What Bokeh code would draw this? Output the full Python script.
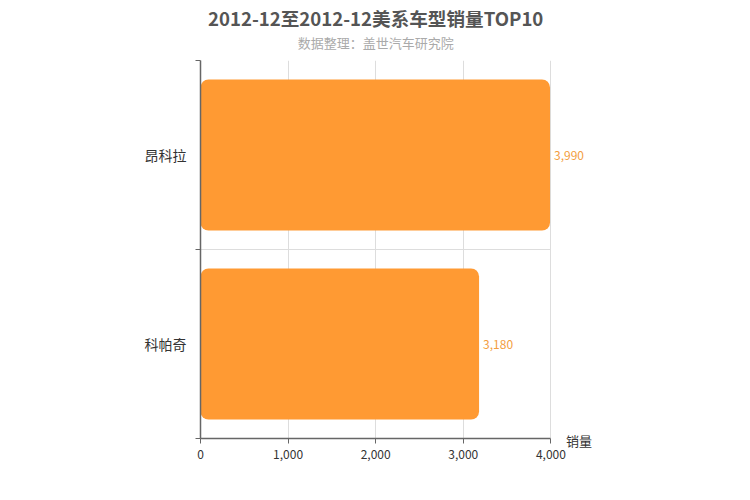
from bokeh.plotting import figure
from bokeh.models import (ColumnDataSource, FixedTicker, Label, LabelSet,
                          Range1d, NumeralTickFormatter)
from bokeh.core.properties import value
from bokeh.embed import file_html
from bokeh.resources import INLINE

models = ["昂科拉", "科帕奇"]
sales = [3990, 3180]
x_ticks = [0, 1000, 2000, 3000, 4000]
title_text = "2012-12至2012-12美系车型销量TOP10"
subtitle_text = "数据整理：盖世汽车研究院"
axis_name = "销量"

FONT = "Noto Sans CJK SC"
n = len(models)
ypos = [n - i - 0.5 for i in range(n)]
labels_txt = [f"{v:,}" for v in sales]
x_max = x_ticks[-1]

W, H = 750, 500
LEFT, RIGHT_FRAME = 200, 550
EXT = 1.25
frame_w = (RIGHT_FRAME - LEFT) * EXT
right_border = W - LEFT - frame_w

src = ColumnDataSource(dict(y=ypos, v=sales, t=labels_txt))

p = figure(width=W, height=H, output_backend="svg", toolbar_location=None,
           x_range=Range1d(0, x_max * EXT), y_range=Range1d(0, n),
           min_border_left=LEFT, min_border_right=int(right_border),
           min_border_top=60, min_border_bottom=62)
p.outline_line_color = None
p.background_fill_color = "white"

p.hbar(y="y", right="v", left=0, height=0.8, source=src,
       fill_color="#FF9A33", line_color=None, border_radius=8)

labels = LabelSet(x="v", y="y", text="t", source=src, x_offset=4,
                  text_baseline="middle", text_align="left",
                  text_color="#F39E40", text_font_size="12px",
                  text_font=value(FONT))
p.add_layout(labels)

# x axis
xa = p.xaxis[0]
xa.bounds = (0, x_max)
xa.ticker = FixedTicker(ticks=x_ticks)
xa.formatter = NumeralTickFormatter(format="0,0")
xa.axis_line_color = "#666666"
xa.axis_line_width = 1.5
xa.major_tick_line_color = "#666666"
xa.major_tick_in = 0
xa.major_tick_out = 5
xa.minor_tick_line_color = None
xa.major_label_text_font = FONT
xa.major_label_text_font_size = "12px"
xa.major_label_text_color = "#333333"
xa.major_label_standoff = 6

# y axis
ya = p.yaxis[0]
ya.ticker = FixedTicker(ticks=ypos, minor_ticks=list(range(n + 1)))
ya.major_label_overrides = {y: m for y, m in zip(ypos, models)}
ya.axis_line_color = "#666666"
ya.axis_line_width = 1.5
ya.major_tick_line_color = None
ya.minor_tick_line_color = "#666666"
ya.minor_tick_in = 0
ya.minor_tick_out = 5
ya.major_label_text_font = FONT
ya.major_label_text_font_size = "14px"
ya.major_label_text_color = "#333333"
ya.major_label_standoff = 8

p.xgrid.ticker = FixedTicker(ticks=x_ticks)
p.xgrid.grid_line_color = "#dddddd"
p.ygrid.ticker = FixedTicker(ticks=list(range(1, n + 1)))
p.ygrid.grid_line_color = "#dddddd"
p.ygrid.cross_bounds = (0, x_max)

p.add_layout(Label(x=x_max, y=0, text=axis_name, x_offset=15, y_offset=-2,
                   text_baseline="middle", text_align="left",
                   text_font=FONT, text_font_size="13px", text_color="#333333"),
             "below")

p.add_layout(Label(x=x_max / 2, y=n, text=subtitle_text, y_offset=18.5,
                   text_baseline="middle", text_align="center",
                   text_font=FONT, text_font_size="13px", text_color="#aaaaaa"),
             "above")
p.add_layout(Label(x=x_max / 2, y=n, text=title_text, y_offset=43.5,
                   text_baseline="middle", text_align="center",
                   text_font=FONT, text_font_size="18.6px", text_color="#555555",
                   text_font_style="bold"),
             "above")

open("out.html", "w").write(file_html(p, INLINE))
